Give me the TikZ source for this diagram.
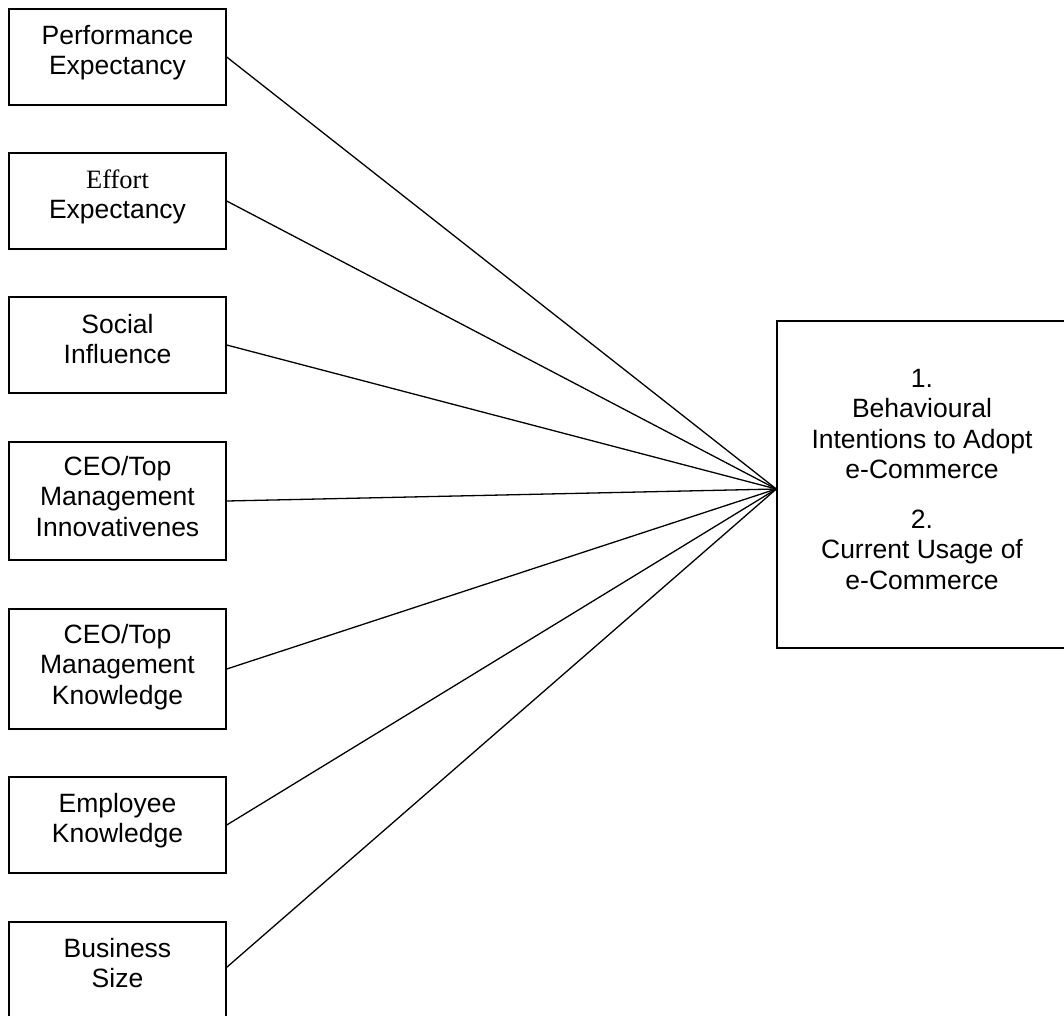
\documentclass[tikz,border=0pt]{standalone}
\usepackage{fontspec}
\setmainfont{Liberation Sans}
\newfontfamily\timesfont{Liberation Serif}
\usetikzlibrary{calc}
\tikzset{
  inbox/.style={draw, line width=1.4pt, minimum width=217pt, inner sep=0pt},
  lbl/.style={align=center, inner sep=0pt, anchor=north, font=\fontsize{26.5}{30.5}\selectfont},
  link/.style={line width=1.3pt}
}
\begin{document}
\begin{tikzpicture}[x=1pt,y=-1pt]
\useasboundingbox (0,0) rectangle (1064,1015);
% left boxes
\node[inbox, minimum height=96pt]  (b1) at (117.5,57) {};
\node[inbox, minimum height=96pt]  (b2) at (117.5,201) {};
\node[inbox, minimum height=96pt]  (b3) at (117.5,345) {};
\node[inbox, minimum height=118pt] (b4) at (117.5,501) {};
\node[inbox, minimum height=120pt] (b5) at (117.5,669) {};
\node[inbox, minimum height=96pt]  (b6) at (117.5,825) {};
\node[inbox, minimum height=110pt] (b7) at (117.5,977) {};
\coordinate (b7p) at ($(b7.north east)+(0,46)$);
% labels
\node[lbl] (t1) at (117.5,22.65) {\strut Performance\\\strut Expectancy};
\node[lbl] (t2) at (117.5,166.65) {\strut{\timesfont Effort}\\\strut Expectancy};
\node[lbl] (t3) at (117.5,311.65) {\strut Social\\\strut Influence};
\node[lbl] (t4) at (117.5,453.65) {\strut CEO/Top\\\strut Management\\\strut Innovativenes};
\node[lbl] (t5) at (117.5,621.65) {\strut CEO/Top\\\strut Management\\\strut Knowledge};
\node[lbl] (t6) at (117.5,790.65) {\strut Employee\\\strut Knowledge};
\node[lbl] (t7) at (117.5,935.65) {\strut Business\\\strut Size};
% outcome box
\node[inbox, minimum width=289pt, minimum height=327pt] (out) at (921.5,484.5) {};
\node[lbl] (tout) at (922,365.65) {\strut 1.\\\strut Behavioural\\\strut Intentions to Adopt\\\strut e-Commerce\\[19pt]\strut 2.\\\strut Current Usage of\\\strut e-Commerce};
\coordinate (hub) at ($(out.west)+(0,4.5)$);
% connectors
\foreach \b in {b1,b2,b3,b4,b5,b6}
  \draw[link] (\b.east) -- (hub);
\draw[link] (b7p) -- (hub);
\end{tikzpicture}
\end{document}
